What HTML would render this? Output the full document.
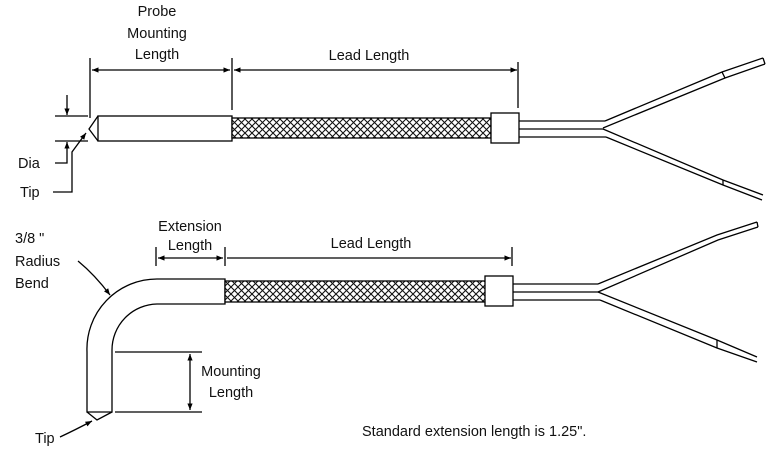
<!DOCTYPE html>
<html><head><style>
html,body{margin:0;padding:0;background:#fff;}
svg{display:block;}
text{font-family:"Liberation Sans",sans-serif;font-size:14.5px;fill:#111;}
</style></head><body>
<svg width="768" height="456" viewBox="0 0 768 456" xmlns="http://www.w3.org/2000/svg">
<defs>
<pattern id="br" width="7" height="7" patternUnits="userSpaceOnUse">
<rect width="7" height="7" fill="#fff"/>
<path d="M0 0L7 7M7 0L0 7" stroke="#111" stroke-width="1.1"/>
</pattern>
<marker id="a" viewBox="0 0 10 10" refX="10" refY="5" markerWidth="6" markerHeight="5" orient="auto-start-reverse"><path d="M0 1L10 5L0 9z" fill="#000"/></marker>
</defs>
<g stroke="#000" stroke-width="1.3" fill="none">
<!-- TOP -->
<line x1="90" y1="58" x2="90" y2="118"/>
<line x1="232" y1="58" x2="232" y2="110"/>
<line x1="518" y1="62" x2="518" y2="108"/>
<line x1="92" y1="70" x2="230" y2="70" marker-start="url(#a)" marker-end="url(#a)"/>
<line x1="234" y1="70" x2="517" y2="70" marker-start="url(#a)" marker-end="url(#a)"/>
<rect x="98" y="116" width="134" height="25" fill="#fff"/>
<polyline points="98,116 89,129 98,141"/>
<rect x="232" y="118" width="259" height="20" fill="url(#br)"/>
<rect x="491" y="113" width="28" height="30" fill="#fff"/>
<line x1="519" y1="121" x2="605" y2="121"/>
<line x1="519" y1="129" x2="603" y2="129"/>
<line x1="519" y1="137" x2="606" y2="137"/>
<polyline points="605,121 722,72 763,58"/>
<polyline points="603,128 725,78 765,64"/>
<line x1="722" y1="72" x2="725" y2="78"/>
<line x1="763" y1="58" x2="765" y2="64"/>
<polyline points="603,129 723,180 763,195"/>
<polyline points="606,137 723,185 762,200"/>
<line x1="723" y1="180" x2="723" y2="185"/>
<!-- Dia -->
<line x1="55" y1="116" x2="88" y2="116"/>
<line x1="55" y1="141" x2="88" y2="141"/>
<line x1="67" y1="95" x2="67" y2="115" marker-end="url(#a)"/>
<polyline points="55,163 67,163 67,142" marker-end="url(#a)"/>
<polyline points="53,192 72,192 72,152 86,133" marker-end="url(#a)"/>
<!-- BOTTOM -->
<line x1="156" y1="247" x2="156" y2="266"/>
<line x1="225" y1="247" x2="225" y2="266"/>
<line x1="512" y1="247" x2="512" y2="266"/>
<line x1="158" y1="258" x2="223" y2="258" marker-start="url(#a)" marker-end="url(#a)"/>
<line x1="227" y1="258" x2="511" y2="258" marker-end="url(#a)"/>
<path d="M87,352 L87,412 L112,412 L112,350 A46,46 0 0 1 157,304 L225,304 L225,279 L157,279 A70,70 0 0 0 87,352" fill="#fff"/>
<polyline points="87,412 97,420 112,412"/>
<rect x="225" y="281" width="261" height="21" fill="url(#br)"/>
<rect x="485" y="276" width="28" height="30" fill="#fff"/>
<line x1="513" y1="284" x2="598" y2="284"/>
<line x1="513" y1="292" x2="598" y2="292"/>
<line x1="513" y1="300" x2="600" y2="300"/>
<polyline points="598,284 717,235 757,222"/>
<polyline points="598,292 718,240 758,227"/>
<line x1="757" y1="222" x2="758" y2="227"/>
<polyline points="598,292 717,340 757,357"/>
<polyline points="600,300 717,348 757,362"/>
<line x1="717" y1="340" x2="717" y2="348"/>
<line x1="115" y1="352" x2="202" y2="352"/>
<line x1="115" y1="412" x2="202" y2="412"/>
<line x1="190" y1="354" x2="190" y2="410" marker-start="url(#a)" marker-end="url(#a)"/>
<path d="M78,261 Q95,275 110,295" marker-end="url(#a)"/>
<path d="M60,437 Q75,430 92,421" marker-end="url(#a)"/>
</g>
<g text-anchor="middle">
<text x="157" y="16">Probe</text>
<text x="157" y="38">Mounting</text>
<text x="157" y="59">Length</text>
<text x="369" y="60">Lead Length</text>
<text x="190" y="231">Extension</text>
<text x="190" y="250">Length</text>
<text x="371" y="248">Lead Length</text>
<text x="231" y="376">Mounting</text>
<text x="231" y="397">Length</text>
</g>
<text x="18" y="168">Dia</text>
<text x="20" y="197">Tip</text>
<text x="15" y="243">3/8 "</text>
<text x="15" y="266">Radius</text>
<text x="15" y="288">Bend</text>
<text x="35" y="443">Tip</text>
<text x="362" y="436">Standard extension length is 1.25".</text>
</svg>
</body></html>
